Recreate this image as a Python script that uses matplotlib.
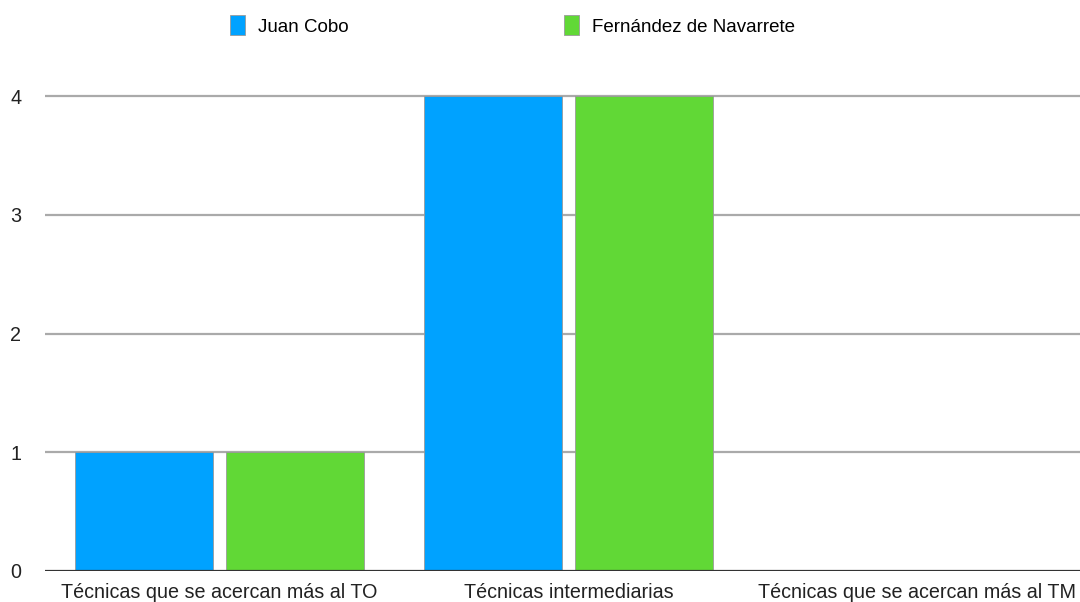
import matplotlib
matplotlib.use("Agg")
import matplotlib.pyplot as plt
import numpy as np

categories = ["Técnicas que se acercan más al TO",
              "Técnicas intermediarias",
              "Técnicas que se acercan más al TM"]
series_names = ["Juan Cobo", "Fernández de Navarrete"]
juan_cobo = [1, 4, 0]
fernandez_navarrete = [1, 4, 0]
yticks = [0, 1, 2, 3, 4]

colors = ["#00A2FF", "#61D836"]

plt.rcParams["font.family"] = ["Liberation Sans", "DejaVu Sans"]

fig = plt.figure(figsize=(10.8, 6.02), dpi=100)
ax_h = (571 - 96) / 602 * 1.05
ax = fig.add_axes([45 / 1080, 31 / 602, 1047 / 1080, ax_h])

x = np.arange(len(categories))
bw = 0.395
gap = 0.04
offs = [-(bw + gap) / 2, (bw + gap) / 2]
for vals, off, col, name in zip([juan_cobo, fernandez_navarrete], offs, colors, series_names):
    ax.bar(x + off, vals, width=bw, color=col, edgecolor="#9a9a9a", linewidth=0.6,
           label=name, zorder=3)

ax.set_xlim(-0.5, len(categories) - 0.5)
ax.set_ylim(0, 4 * 1.05)
ax.set_yticks(yticks)
ax.set_yticklabels([str(t) for t in yticks])
ax.set_xticks(x)
ax.set_xticklabels(categories)

for t in yticks[1:]:
    ax.axhline(t, color="#aaaaaa", linewidth=1.6, zorder=1)
ax.axhline(0, color="#333333", linewidth=1.6, zorder=4)

for s in ax.spines.values():
    s.set_visible(False)
ax.tick_params(axis="both", length=0, labelsize=14.2, colors="#222222")
ax.tick_params(axis="y", pad=17)
ax.tick_params(axis="x", pad=9)

leg_y = ((602 - 8) / 602 - 31 / 602) / ax_h
ax.legend(loc="upper left", bbox_to_anchor=(177 / 1047, leg_y),
          ncol=2, frameon=False, fontsize=13.5, handlelength=0.8, handleheight=1.25,
          handletextpad=0.7, columnspacing=11.5, borderaxespad=0)

fig.savefig("out.png", dpi=100)
